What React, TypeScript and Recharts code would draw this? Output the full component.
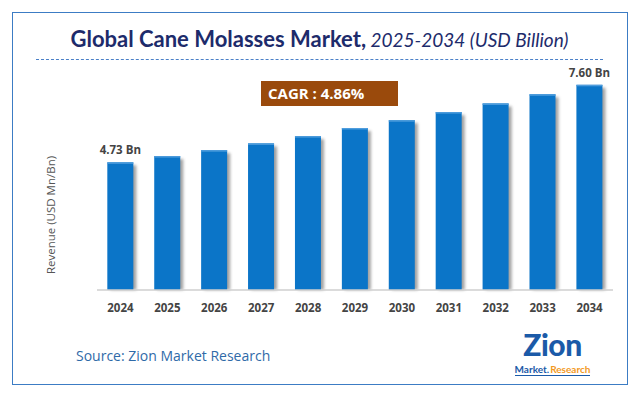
import React from "react";
import { BarChart, Bar, XAxis, YAxis, LabelList } from "recharts";

// chart values
const years = ["2024", "2025", "2026", "2027", "2028", "2029", "2030", "2031", "2032", "2033", "2034"];
const revenue = [4.73, 4.96, 5.18, 5.43, 5.7, 6.0, 6.29, 6.59, 6.91, 7.25, 7.6];
const valueLabels = ["4.73 Bn", "", "", "", "", "", "", "", "", "", "7.60 Bn"];

const data = years.map((y, i) => ({ year: y, value: revenue[i], label: valueLabels[i] }));

const BarWithShadow = (props: any) => {
  const { x, y, width, height } = props;
  if (!height || height <= 0) return null;
  return (
    <g>
      <rect x={x + 3} y={y + 3} width={width} height={height - 3} fill="#555" opacity={0.55} filter="url(#barShadow)" />
      <rect x={x} y={y} width={width} height={height} fill="#0b75c8" />
      <rect x={x} y={y} width={width} height={1.5} fill="#4f9ddd" />
    </g>
  );
};

const TopLabel = (props: any) => {
  const { x, y, width, value } = props;
  if (!value) return null;
  return (
    <text
      x={x + width / 2}
      y={y - 8}
      textAnchor="middle"
      fill="#444"
      fontSize={11.5}
      fontWeight={700}
      fontFamily="'Open Sans', sans-serif"
    >
      {value}
    </text>
  );
};

export default function App() {
  return (
    <div style={{ position: "absolute", left: 0, top: 0, width: 639, height: 396, background: "#fff", fontFamily: "'Open Sans', sans-serif" }}>
      <svg width={0} height={0} style={{ position: "absolute" }}>
        <defs>
          <filter id="barShadow" x="-30%" y="-10%" width="160%" height="120%">
            <feGaussianBlur stdDeviation="1.5" />
          </filter>
        </defs>
      </svg>

      {/* frame */}
      <div style={{ position: "absolute", left: 12, top: 12, width: 614, height: 371, border: "1.5px solid #3c7cc4" }} />

      {/* title */}
      <div style={{ position: "absolute", left: 0, top: 25, width: 639, textAlign: "center", color: "#1d2b6b", fontFamily: "Lato, sans-serif", fontSize: 22, whiteSpace: "nowrap" }}>
        <span style={{ fontWeight: 700 }}>Global Cane Molasses Market,</span>
        <span style={{ fontStyle: "italic", fontWeight: 400, fontSize: 19 }}> 2025-2034 (USD Billion)</span>
      </div>
      <div style={{ position: "absolute", left: 36, top: 59, width: 567, borderTop: "1.5px dashed #4a80c8" }} />

      <BarChart width={639} height={396} data={data} margin={{ top: 74, right: 26, bottom: 76, left: 97 }} barCategoryGap="22%">
        <YAxis hide domain={[0, 8]} />
        <XAxis
          dataKey="year"
          axisLine={{ stroke: "#cfcfcf", strokeWidth: 1.5 }}
          tickLine={false}
          height={30}
          tick={{ fill: "#444", fontSize: 11.5, fontWeight: 700, fontFamily: "'Open Sans', sans-serif" }}
          tickMargin={8}
          interval={0}
        />
        <Bar dataKey="value" shape={<BarWithShadow />} isAnimationActive={false}>
          <LabelList dataKey="label" content={<TopLabel />} />
        </Bar>
      </BarChart>

      {/* y-axis title */}
      <div style={{ position: "absolute", left: 50, top: 215, transform: "translate(-50%, -50%) rotate(-90deg)", color: "#555", fontSize: 11.5, whiteSpace: "nowrap" }}>
        Revenue (USD Mn/Bn)
      </div>

      {/* CAGR box */}
      <div style={{ position: "absolute", left: 261, top: 81, width: 137, height: 25, background: "#9a4a0c", color: "#fff", fontWeight: 700, fontSize: 15, lineHeight: "25px", paddingLeft: 7, boxSizing: "border-box", whiteSpace: "nowrap" }}>
        CAGR : 4.86%
      </div>

      {/* source */}
      <div style={{ position: "absolute", left: 76, top: 346, color: "#2f6aa8", fontSize: 14, whiteSpace: "nowrap" }}>
        Source: Zion Market Research
      </div>

      {/* logo */}
      <div style={{ position: "absolute", left: 505, top: 327, width: 95, fontFamily: "Lato, sans-serif", display: "flex", flexDirection: "column", alignItems: "center" }}>
        <div style={{ fontSize: 30, fontWeight: 900, lineHeight: "34px", color: "#1b5aa8", letterSpacing: -0.5, marginBottom: 2 }}>Zion</div>
        <div style={{ display: "flex", gap: 1, fontSize: 10, fontWeight: 700, lineHeight: "12px", whiteSpace: "nowrap", borderBottom: "1px solid #1b5aa8" }}>
          <span style={{ color: "#1b5aa8" }}>Market.</span>
          <span style={{ color: "#f29a1f" }}>Research</span>
        </div>
      </div>
    </div>
  );
}
